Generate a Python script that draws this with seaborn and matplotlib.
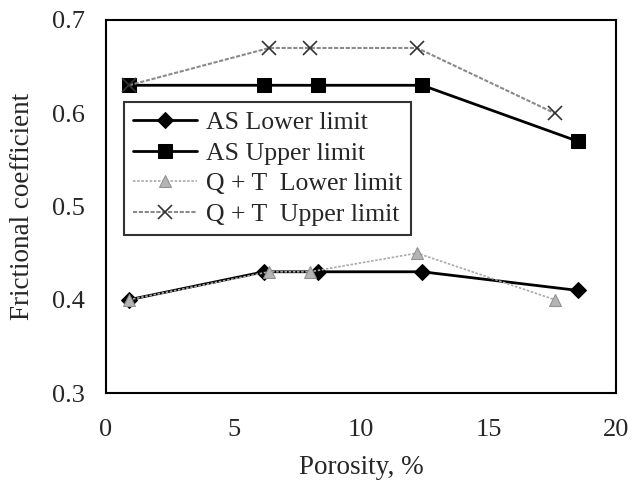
import matplotlib
matplotlib.use("Agg")
import matplotlib.pyplot as plt
import seaborn as sns
import pandas as pd

# Data
as_porosity = [0.9, 6.2, 8.3, 12.4, 18.5]
as_lower = [0.40, 0.43, 0.43, 0.43, 0.41]
as_upper = [0.63, 0.63, 0.63, 0.63, 0.57]
qt_porosity = [0.9, 6.4, 8.0, 12.2, 17.6]
qt_lower = [0.40, 0.43, 0.43, 0.45, 0.40]
qt_upper = [0.63, 0.67, 0.67, 0.67, 0.60]

series_names = ["AS Lower limit", "AS Upper limit", "Q + T  Lower limit", "Q + T  Upper limit"]
x_ticks = [0, 5, 10, 15, 20]
y_ticks = [0.3, 0.4, 0.5, 0.6, 0.7]
y_tick_labels = ["0.3", "0.4", "0.5", "0.6", "0.7"]

sns.set_theme(style="white")
plt.rcParams['font.family'] = ['Liberation Serif', 'DejaVu Serif']

fig = plt.figure(figsize=(6.32, 4.91), dpi=100)
ax = fig.add_axes([106/632, 1-393/491, (616-106)/632, (393-20)/491])

frames = [
    (as_porosity, as_lower, series_names[0]),
    (as_porosity, as_upper, series_names[1]),
    (qt_porosity, qt_lower, series_names[2]),
    (qt_porosity, qt_upper, series_names[3]),
]
styles = {
    series_names[0]: dict(color="black", marker="D", markersize=8, linewidth=2.0,
                          markerfacecolor="black", markeredgecolor="black"),
    series_names[1]: dict(color="black", marker="s", markersize=10, linewidth=2.0,
                          markerfacecolor="black", markeredgecolor="black"),
    series_names[2]: dict(color="#a8a8a8", marker="^", markersize=9, linewidth=1.2,
                          markerfacecolor="#b4b4b4", markeredgecolor="#909090", linestyle=(0, (1.5, 1))),
    series_names[3]: dict(color="#8a8a8a", marker="x", markersize=10, linewidth=1.5,
                          markeredgecolor="#333333", markeredgewidth=1.2, linestyle=(0, (2, 0.8))),
}
for xs, ys, name in frames:
    df = pd.DataFrame({"x": xs, "y": ys})
    sns.lineplot(data=df, x="x", y="y", ax=ax, label=name, **styles[name])

ax.set_xlim(0, 20)
ax.set_ylim(0.3, 0.7)
ax.set_xticks(x_ticks)
ax.set_yticks(y_ticks)
ax.set_yticklabels(y_tick_labels)
ax.tick_params(axis="both", labelsize=19, direction="in", length=3, width=0.8, color="black")
ax.tick_params(axis="x", pad=19)
ax.tick_params(axis="y", pad=15)
ax.set_xlabel("Porosity, %", fontsize=19.5, labelpad=10)
ax.set_ylabel("Frictional coefficient", fontsize=19.5, labelpad=12)
for s in ax.spines.values():
    s.set_color("black")
    s.set_linewidth(1.5)

leg = ax.legend(loc="upper left", bbox_to_anchor=(0.035, 0.78), borderaxespad=0,
                fontsize=18.5, frameon=True, fancybox=False, handlelength=2.5,
                handletextpad=0.35, labelspacing=0.3, borderpad=0.35)
leg.get_frame().set_edgecolor("black")
leg.get_frame().set_linewidth(1.5)

fig.savefig("out.png", dpi=100, facecolor="white")
